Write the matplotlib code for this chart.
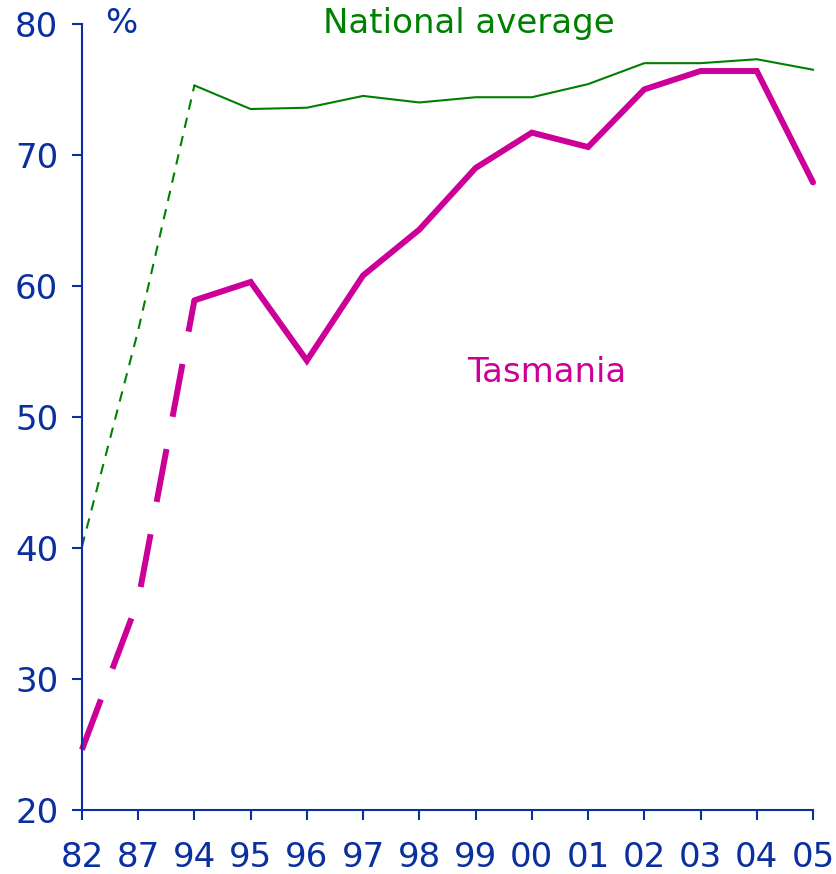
"""
Tasmania vs national average (%), 1982-2005
"""

import matplotlib
matplotlib.use('Agg')
import matplotlib.pyplot as plt
import numpy as np


#---------------------------------------------------------------------------------------------------
# Data
#---------------------------------------------------------------------------------------------------

years = ['82', '87', '94', '95', '96', '97', '98', '99', '00', '01', '02', '03', '04', '05']
national = [40.1, 56.6, 75.3, 73.5, 73.6, 74.5, 74.0, 74.4, 74.4, 75.4, 77.0, 77.0, 77.3, 76.5]
tasmania = [24.6, 36.0, 58.9, 60.3, 54.3, 60.8, 64.3, 69.0, 71.7, 70.6, 75.0, 76.4, 76.4, 67.9]

# index of first year with annual data (earlier points drawn dashed)
split = 2

axis_c = '#0a2f9e'
nat_c = '#008000'
tas_c = '#cc0099'
fs = 24.5


#---------------------------------------------------------------------------------------------------
# Plot
#---------------------------------------------------------------------------------------------------

fig = plt.figure(figsize=(8.36, 8.74), dpi=100)
ax = fig.add_axes([0.098, 0.0732, 0.8745, 0.8995])

x = np.arange(len(years))

# dashed early segments, solid afterwards
ax.plot(x[:split+1], national[:split+1], c=nat_c, lw=1.5, ls=(0, (5, 4)), clip_on=False)
ax.plot(x[split:], national[split:], c=nat_c, lw=1.5, clip_on=False)
ax.plot(x[:split+1], tasmania[:split+1], c=tas_c, lw=4.3, ls=(0, (9, 5.5)), clip_on=False)
ax.plot(x[split:], tasmania[split:], c=tas_c, lw=4.3, solid_capstyle='round',
        solid_joinstyle='miter', clip_on=False)

ax.set_xlim(0, len(years) - 1)
ax.set_ylim(20, 80)
ax.set_xticks(x)
ax.set_xticklabels(years)
ax.set_yticks(np.arange(20, 81, 10))

for s in ['top', 'right']:
    ax.spines[s].set_visible(False)
for s in ['left', 'bottom']:
    ax.spines[s].set_color(axis_c)
    ax.spines[s].set_linewidth(1.5)

ax.tick_params(axis='both', colors=axis_c, width=1.5, length=7, labelsize=fs)
ax.tick_params(axis='x', pad=15)
ax.tick_params(axis='y', pad=10)

# Annotations
ax.text(0.41, 79.3, '%', color=axis_c, fontsize=fs, va='baseline', ha='left')
ax.text(4.29, 79.3, 'National average', color=nat_c, fontsize=fs, va='baseline', ha='left')
ax.text(6.85, 52.7, 'Tasmania', color=tas_c, fontsize=fs, va='baseline', ha='left')

plt.savefig('out.png', dpi=100)
